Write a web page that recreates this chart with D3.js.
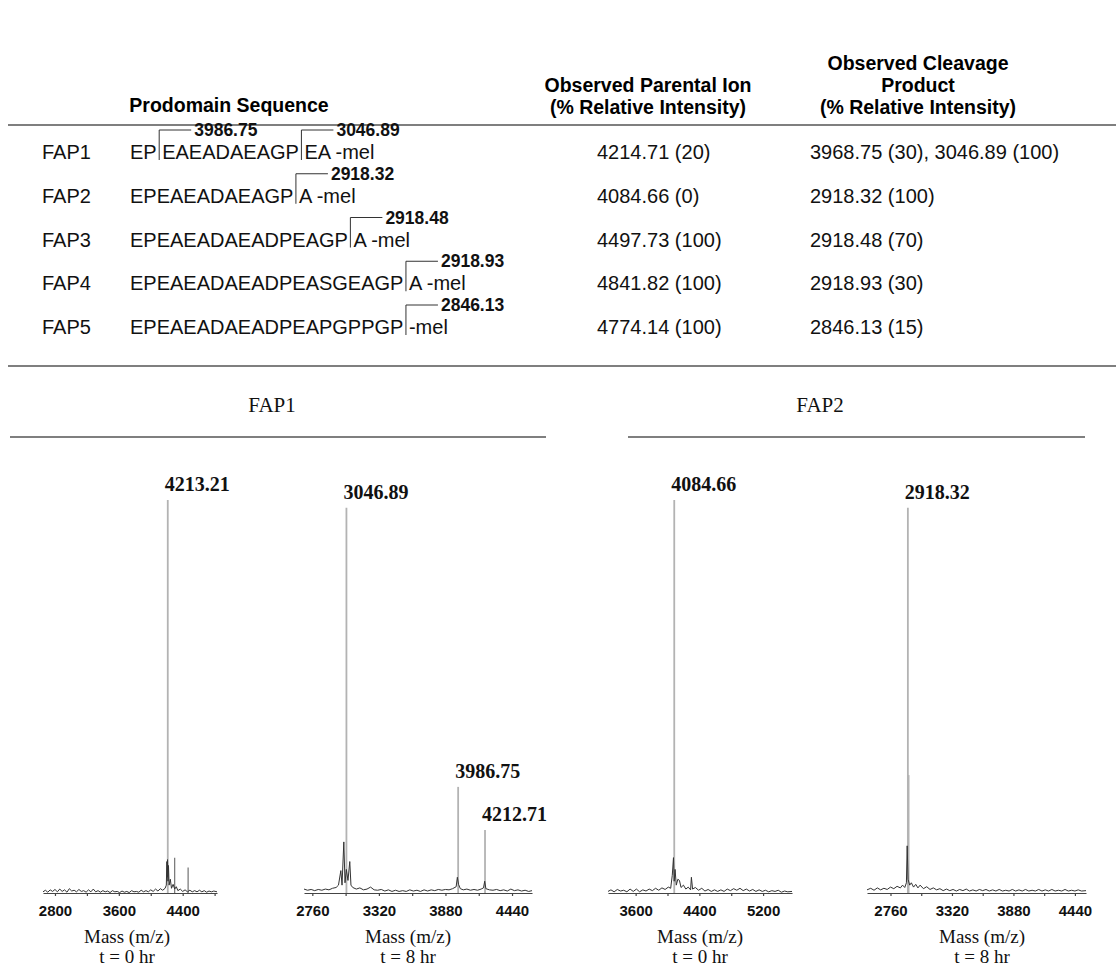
<!DOCTYPE html>
<html>
<head>
  <meta charset="utf-8">
  <script src="https://d3js.org/d3.v7.min.js"></script>
  <style>
    body { margin: 0; background: #fff; }
    .sans { font-family: "Liberation Sans", Arial, sans-serif; }
    .serif { font-family: "Liberation Serif", "Times New Roman", serif; }
    .rule { stroke: #555; stroke-width: 1.5; }
    .axis path, .axis line { stroke: #444; stroke-width: 1.2; }
    .axis text { font-family: "Liberation Sans", Arial, sans-serif; font-weight: bold; font-size: 15px; fill: #111; }
  </style>
</head>
<body>
<div id="chart"></div>
<script>

    // ---- table ----
    const rowNames = ["FAP1", "FAP2", "FAP3", "FAP4", "FAP5"]
    // sequence split at each cleavage bracket
    const seqPieces = [
        ["EP", "EAEADAEAGP", "EA -mel"],
        ["EPEAEADAEAGP", "A -mel"],
        ["EPEAEADAEADPEAGP", "A -mel"],
        ["EPEAEADAEADPEASGEAGP", "A -mel"],
        ["EPEAEADAEADPEAPGPPGP", "-mel"]
    ]
    const cutLabels = [["3986.75", "3046.89"], ["2918.32"], ["2918.48"], ["2918.93"], ["2846.13"]]
    const parentIon = ["4214.71 (20)", "4084.66 (0)", "4497.73 (100)", "4841.82 (100)", "4774.14 (100)"]
    const cleavageProduct = ["3968.75 (30), 3046.89 (100)", "2918.32 (100)", "2918.48 (70)", "2918.93 (30)", "2846.13 (15)"]

    // ---- spectra: [mass, % intensity] ----
    const fap1t0Noise = [[2650,0.3],[2680,0.7],[2710,0.2],[2740,0.8],[2770,0.4],[2800,0.9],[2830,0.3],[2860,1.0],[2890,0.4],[2920,0.8],[2950,0.2],[2980,1.1],[3010,0.5],[3040,0.7],[3070,0.3],[3100,0.9],[3130,0.4],[3160,0.6],[3190,0.2],[3220,0.8],[3250,0.3],[3280,1.0],[3310,0.3],[3340,0.6],[3370,0.2],[3400,0.6],[3430,0.3],[3460,0.5],[3490,0.1],[3520,0.6],[3550,0.3],[3580,0.4],[3610,0.1],[3640,0.5],[3670,0.2],[3700,0.4],[3730,0.1],[3760,0.6],[3790,0.3],[3820,0.4],[3850,0.2],[3880,0.7],[3910,0.3],[3940,0.6],[3970,0.3],[4000,0.8],[4030,0.4],[4060,1.0],[4090,0.5],[4120,1.1],[4150,0.7],[4180,1.2],[4195,2.0],[4202,8.0],[4206,4.0],[4210,8.5],[4216,3.0],[4222,7.0],[4230,2.0],[4245,3.5],[4260,1.2],[4280,2.2],[4300,1.0],[4320,1.6],[4340,0.6],[4370,1.0],[4400,0.4],[4430,0.8],[4460,0.3],[4490,0.7],[4520,0.3],[4550,0.6],[4580,0.3],[4610,0.7],[4640,0.3],[4670,0.6],[4700,0.2],[4730,0.5],[4760,0.3],[4790,0.5],[4830,0.3]]
    const fap1t0Peaks = [[4213.21, 100], [4300, 9], [4468, 6.5]]
    const fap1t0Labels = [[4213.21, 100, "4213.21"]]

    const fap1t8Noise = [[2690,1.0],[2720,0.7],[2750,0.9],[2780,0.6],[2810,0.9],[2840,0.7],[2870,1.0],[2900,0.8],[2930,1.2],[2960,1.4],[2980,2.0],[3000,5.7],[3010,2.0],[3025,13],[3035,2.6],[3046,6],[3060,3.2],[3075,8],[3085,2.0],[3100,1.4],[3130,1.0],[3160,1.3],[3190,0.8],[3220,1.0],[3250,1.5],[3280,0.8],[3310,0.7],[3340,0.9],[3370,0.5],[3400,0.8],[3430,0.4],[3460,0.7],[3490,0.4],[3520,0.6],[3550,0.4],[3580,0.8],[3610,0.5],[3640,0.7],[3670,0.4],[3700,0.8],[3730,0.5],[3760,0.8],[3790,0.6],[3820,0.9],[3850,0.7],[3880,0.9],[3910,0.8],[3940,1.1],[3970,1.6],[3980,4.0],[3990,2.2],[4005,1.1],[4030,0.8],[4060,1.0],[4090,0.7],[4120,0.9],[4150,0.7],[4180,1.0],[4200,1.3],[4210,3.0],[4220,1.1],[4250,0.8],[4280,0.7],[4310,0.9],[4340,0.6],[4370,0.8],[4400,0.5],[4430,1.0],[4460,0.6],[4490,0.8],[4520,0.5],[4550,0.7],[4580,0.4],[4608,0.6]]
    const fap1t8Peaks = [[3046.89, 98], [3986.75, 27], [4212.71, 16]]
    const fap1t8Labels = [[3046.89, 98, "3046.89"], [3986.75, 27, "3986.75"], [4212.71, 16, "4212.71"]]

    const fap2t0Noise = [[3253,0.4],[3290,0.8],[3330,0.3],[3370,0.9],[3410,0.5],[3450,0.7],[3490,0.3],[3530,1.0],[3570,0.4],[3610,1.0],[3650,0.3],[3690,0.8],[3730,0.5],[3770,1.0],[3810,0.6],[3850,1.2],[3890,0.7],[3930,1.3],[3970,0.9],[4010,1.5],[4040,1.2],[4060,4.5],[4075,9],[4084,3],[4095,6],[4110,2.0],[4130,3.5],[4150,3.2],[4170,1.4],[4200,2.0],[4230,1.0],[4260,1.5],[4290,0.8],[4300,4.0],[4315,1.0],[4350,1.4],[4390,0.7],[4430,1.2],[4470,0.5],[4510,0.9],[4550,0.4],[4590,0.8],[4630,0.4],[4670,0.8],[4710,0.4],[4750,1.0],[4790,0.6],[4830,1.1],[4870,0.7],[4910,1.2],[4950,0.6],[4990,1.0],[5030,0.5],[5070,0.9],[5110,0.4],[5150,0.8],[5190,0.4],[5230,0.7],[5270,0.3],[5310,0.6],[5350,0.4],[5390,0.7],[5430,0.2],[5470,0.5],[5510,0.3],[5563,0.4]]
    const fap2t0Peaks = [[4084.66, 100]]
    const fap2t0Labels = [[4084.66, 100, "4084.66"]]

    const fap2t8Noise = [[2546,0.8],[2580,1.2],[2610,0.7],[2640,1.3],[2670,0.8],[2700,1.2],[2730,0.9],[2760,1.5],[2790,1.1],[2820,1.7],[2850,1.3],[2870,2.0],[2890,1.4],[2905,2.6],[2912,12],[2920,3.5],[2935,2.0],[2950,2.6],[2970,1.5],[2990,2.2],[3010,1.3],[3030,2.0],[3060,1.1],[3090,1.6],[3120,0.9],[3150,1.3],[3180,0.8],[3210,1.1],[3240,0.6],[3270,1.0],[3300,0.6],[3330,0.9],[3360,0.5],[3390,0.9],[3420,0.6],[3450,1.0],[3480,0.5],[3510,0.8],[3540,0.5],[3570,0.9],[3600,0.6],[3630,0.9],[3660,0.5],[3690,0.8],[3720,0.5],[3750,0.9],[3780,0.5],[3810,0.7],[3840,0.5],[3870,0.9],[3900,0.5],[3930,0.8],[3960,0.5],[3990,0.9],[4020,0.5],[4050,0.7],[4080,0.5],[4110,0.9],[4140,0.5],[4170,0.8],[4200,0.5],[4230,0.9],[4260,0.5],[4290,0.7],[4320,0.5],[4350,0.9],[4380,0.5],[4410,0.7],[4440,0.5],[4470,0.8],[4500,0.5],[4541,0.6]]
    const fap2t8Peaks = [[2918.32, 98], [2925, 30]]
    const fap2t8Labels = [[2918.32, 98, "2918.32"]]

    const ticks400a = [2800, 3200, 3600, 4000, 4400, 4800]
    const labels400a = [2800, 3600, 4400]
    const ticks280 = [2760, 3040, 3320, 3600, 3880, 4160, 4440]
    const labels280 = [2760, 3320, 3880, 4440]
    const ticks400b = [3600, 4000, 4400, 4800, 5200]
    const labels400b = [3600, 4400, 5200]

    const panels = [
        { noise: fap1t0Noise, peaks: fap1t0Peaks, labels: fap1t0Labels, domain: [2650, 4830], range: [43, 217],
          ticks: ticks400a, tickLabels: labels400a, cx: 127, time: "t = 0 hr" },
        { noise: fap1t8Noise, peaks: fap1t8Peaks, labels: fap1t8Labels, domain: [2690, 4608], range: [304, 532],
          ticks: ticks280, tickLabels: labels280, cx: 408, time: "t = 8 hr" },
        { noise: fap2t0Noise, peaks: fap2t0Peaks, labels: fap2t0Labels, domain: [3253, 5563], range: [608, 792],
          ticks: ticks400b, tickLabels: labels400b, cx: 700, time: "t = 0 hr" },
        { noise: fap2t8Noise, peaks: fap2t8Peaks, labels: fap2t8Labels, domain: [2546, 4541], range: [867, 1086],
          ticks: ticks280, tickLabels: labels280, cx: 982, time: "t = 8 hr" }
    ]

    const width = 1116, height = 967

    const svg = d3.select("#chart").append("svg")
        .attr("width", width)
        .attr("height", height)

    function drawTable() {
        const head = svg.append("g").attr("class", "sans")
            .attr("font-weight", "bold").attr("font-size", 19.5).attr("text-anchor", "middle")

        head.append("text").attr("x", 229).attr("y", 112).text("Prodomain Sequence")
        head.append("text").attr("x", 648).attr("y", 92).text("Observed Parental Ion")
        head.append("text").attr("x", 648).attr("y", 114).text("(% Relative Intensity)")
        head.append("text").attr("x", 918).attr("y", 70).text("Observed Cleavage")
        head.append("text").attr("x", 918).attr("y", 92).text("Product")
        head.append("text").attr("x", 918).attr("y", 114).text("(% Relative Intensity)")

        svg.append("line").attr("class", "rule")
            .attr("x1", 8).attr("x2", width).attr("y1", 125).attr("y2", 125)
        svg.append("line").attr("class", "rule")
            .attr("x1", 8).attr("x2", width).attr("y1", 366).attr("y2", 366)

        const rowY = d3.scalePoint().domain(rowNames).range([159, 334])

        const body = svg.append("g").attr("class", "sans").attr("font-size", 20).attr("fill", "#111")

        rowNames.forEach((name, i) => {
            const B = rowY(name)
            body.append("text").attr("x", 42).attr("y", B).text(name)
            body.append("text").attr("x", 597).attr("y", B).text(parentIon[i])
            body.append("text").attr("x", 810).attr("y", B).text(cleavageProduct[i])

            // sequence with cleavage brackets
            let x = 130
            seqPieces[i].forEach((piece, j) => {
                const t = body.append("text").attr("x", x).attr("y", B).text(piece)
                const w = t.node().getComputedTextLength()
                if (j < seqPieces[i].length - 1) {
                    const bx = x + w + 2.5
                    body.append("path")
                        .attr("d", `M${bx},${B + 1}V${B - 29}H${bx + 32}`)
                        .attr("fill", "none").attr("stroke", "#333").attr("stroke-width", 1)
                    body.append("text")
                        .attr("x", bx + 35).attr("y", B - 23)
                        .attr("font-weight", "bold").attr("font-size", 17.5)
                        .text(cutLabels[i][j])
                    x = bx + 3
                }
            })
        })
    }

    function drawSpectra() {
        // group headers
        const titles = [["FAP1", 272, 10, 546], ["FAP2", 820, 628, 1085]]
        titles.forEach(([t, cx, x1, x2]) => {
            svg.append("text").attr("class", "serif")
                .attr("x", cx).attr("y", 412).attr("font-size", 21)
                .attr("text-anchor", "middle").attr("fill", "#111").text(t)
            svg.append("line").attr("class", "rule")
                .attr("x1", x1).attr("x2", x2).attr("y1", 437).attr("y2", 437)
        })

        const y = d3.scaleLinear().domain([0, 100]).range([893, 500])

        panels.forEach(p => {
            const x = d3.scaleLinear().domain(p.domain).range(p.range)
            const g = svg.append("g")

            g.append("g")
                .attr("class", "axis")
                .attr("transform", `translate(0, ${y(0)})`)
                .call(d3.axisBottom(x)
                    .tickValues(p.ticks)
                    .tickSize(3)
                    .tickSizeOuter(0)
                    .tickPadding(9)
                    .tickFormat(d => p.tickLabels.includes(d) ? d : ""))

            g.selectAll(".peak")
                .data(p.peaks).enter()
                .append("line")
                .attr("class", "peak")
                .attr("x1", d => x(d[0])).attr("x2", d => x(d[0]))
                .attr("y1", y(0)).attr("y2", d => y(d[1]))
                .attr("stroke", d => d[1] >= 15 ? "#b3b3b3" : "#666")
                .attr("stroke-width", d => d[1] >= 15 ? 1.8 : 1.1)

            g.append("path")
                .datum(p.noise)
                .attr("fill", "none")
                .attr("stroke", "#333")
                .attr("stroke-width", 1)
                .attr("d", d3.line().x(d => x(d[0])).y(d => y(d[1])))

            g.selectAll(".plabel")
                .data(p.labels).enter()
                .append("text")
                .attr("class", "serif")
                .attr("x", d => x(d[0]) - 3)
                .attr("y", d => y(d[1]) - 9)
                .attr("font-weight", "bold").attr("font-size", 20).attr("fill", "#111")
                .text(d => d[2])

            g.append("text").attr("class", "serif")
                .attr("x", p.cx).attr("y", 943).attr("font-size", 19)
                .attr("text-anchor", "middle").attr("fill", "#111").text("Mass (m/z)")
            g.append("text").attr("class", "serif")
                .attr("x", p.cx).attr("y", 963).attr("font-size", 19)
                .attr("text-anchor", "middle").attr("fill", "#111").text(p.time)
        })
    }

    drawTable()
    drawSpectra()

</script>
</body>
</html>
